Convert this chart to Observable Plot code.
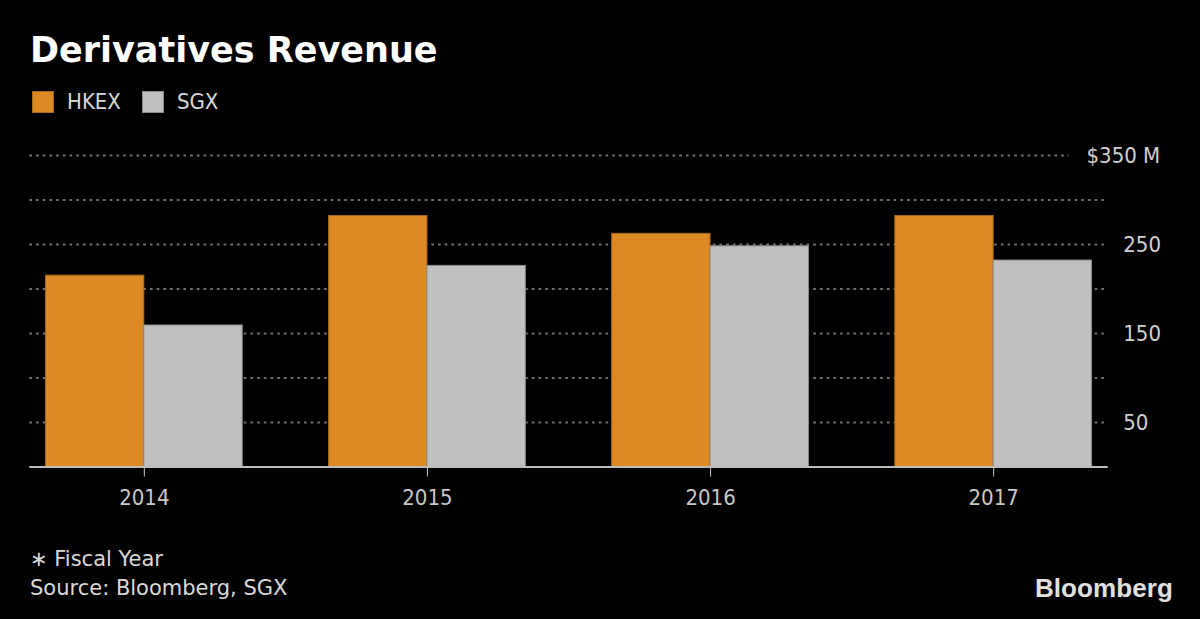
<!DOCTYPE html>
<html><head><meta charset="utf-8">
<script src="https://cdn.jsdelivr.net/npm/d3@7"></script>
<script src="https://cdn.jsdelivr.net/npm/@observablehq/plot@0.6"></script>
<style>
html,body{margin:0;padding:0;background:#000;}
body{width:1200px;height:619px;position:relative;overflow:hidden;font-family:"DejaVu Sans",sans-serif;}
#title{position:absolute;left:30px;top:33.4px;font:bold 35px/1 "DejaVu Sans";color:#fff;white-space:nowrap;}
#legend{position:absolute;left:32px;top:91px;height:22px;display:flex;align-items:center;font:22px/1 "DejaVu Sans Condensed";color:#d9d9d9;white-space:nowrap;}
#legend .sw{display:inline-block;width:22px;height:22px;box-sizing:border-box;border:1px solid;margin-right:13px;}
#legend .item{display:flex;align-items:center;margin-right:21px;}
#chart{position:absolute;left:0;top:125px;}
#caption{position:absolute;left:30px;top:545px;font:21px/28.6px "DejaVu Sans";color:#d9d9d9;white-space:nowrap;}
#logo{position:absolute;right:27px;top:574.7px;font:bold 26px/1 "Liberation Sans";color:#e0e0e0;letter-spacing:0.1px;}
</style></head>
<body>
<div id="title">Derivatives Revenue</div>
<div id="legend"></div>
<div id="chart"></div>
<div id="caption">∗ Fiscal Year<br>Source: Bloomberg, SGX</div>
<div id="logo">Bloomberg</div>
<script>
// Data
const years = ["2014", "2015", "2016", "2017"];
const seriesNames = ["HKEX", "SGX"];
const hkex = [215, 282, 262, 282];
const sgx = [159, 226, 248, 232];
const gridTicks = [50, 100, 150, 200, 250, 300, 350];
const yLabelTicks = [50, 150, 250];
const topTick = [350];
const topTickLabel = "$350 M";

const fills = {HKEX: "#dc8a24", SGX: "#c0c0c0"};
const strokes = {HKEX: "#a8691c", SGX: "#8c8c8c"};

// Legend
const legend = document.getElementById("legend");
for (const s of seriesNames) {
  const it = document.createElement("span");
  it.className = "item";
  it.innerHTML = `<span class="sw" style="background:${fills[s]};border-color:${strokes[s]}"></span><span>${s}</span>`;
  legend.appendChild(it);
}

const rows = years.flatMap((y, i) => [
  {year: y, series: "HKEX", value: hkex[i]},
  {year: y, series: "SGX", value: sgx[i]}
]);

const W = 1200, H = 400;
const ml = 29.3, mr = 92.3, mt = 30, mb = 58.5;
const xOpts = {type: "band", domain: years, paddingInner: 0.305, paddingOuter: 0.057, round: false};
const bw = Plot.scale({x: {...xOpts, range: [ml, W - mr]}}).bandwidth;

const chart = Plot.plot({
  width: W, height: H,
  marginLeft: ml, marginRight: mr, marginTop: mt, marginBottom: mb,
  style: {background: "#000", color: "#c8c8c8", fontFamily: "DejaVu Sans Condensed", fontSize: "22px"},
  x: {...xOpts, label: null, tickSize: 10, tickPadding: 12},
  y: {domain: [0, 350], axis: null},
  marks: [
    Plot.ruleY(gridTicks.filter(v => !topTick.includes(v)), {y: d => d, stroke: "#707070", strokeWidth: 2, strokeDasharray: "2.7,4"}),
    Plot.ruleY(topTick, {y: d => d, stroke: "#707070", strokeWidth: 2, strokeDasharray: "2.7,4", insetRight: 39}),
    Plot.barY(rows.filter(d => d.series === "HKEX"), {x: "year", y: "value", fill: fills.HKEX, stroke: strokes.HKEX, strokeWidth: 1, insetRight: bw / 2}),
    Plot.barY(rows.filter(d => d.series === "SGX"), {x: "year", y: "value", fill: fills.SGX, stroke: strokes.SGX, strokeWidth: 1, insetLeft: bw / 2}),
    Plot.ruleY([0], {stroke: "#bdbdbd", strokeWidth: 2}),
    Plot.text(yLabelTicks, {y: d => d, text: d => String(d), frameAnchor: "right", dx: 15, textAnchor: "start", fill: "#d0d0d0", fontSize: 22}),
    Plot.text(topTick, {y: d => d, text: () => topTickLabel, frameAnchor: "right", dx: 52, textAnchor: "end", fill: "#d0d0d0", fontSize: 22})
  ]
});
document.getElementById("chart").appendChild(chart);
</script>
</body></html>
